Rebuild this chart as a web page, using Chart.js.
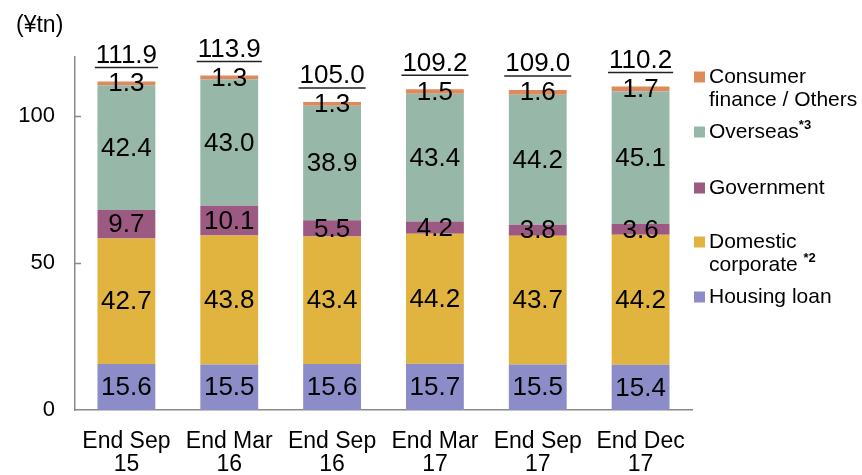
<!DOCTYPE html>
<html>
<head>
<meta charset="utf-8">
<script src="https://cdn.jsdelivr.net/npm/chart.js@4.4.1/dist/chart.umd.min.js"></script>
<style>
  html, body { margin: 0; padding: 0; background: #ffffff; }
  #wrap { width: 862px; height: 475px; position: relative; }
</style>
</head>
<body>
<div id="wrap"><canvas id="chart" width="862" height="475"></canvas></div>
<script>
// Loan balance by borrower type (¥ trillion)
const categories = [
  ['End Sep', '15'], ['End Mar', '16'], ['End Sep', '16'],
  ['End Mar', '17'], ['End Sep', '17'], ['End Dec', '17']
];
const housingLoan       = [15.6, 15.5, 15.6, 15.7, 15.5, 15.4];
const domesticCorporate = [42.7, 43.8, 43.4, 44.2, 43.7, 44.2];
const government        = [9.7, 10.1, 5.5, 4.2, 3.8, 3.6];
const overseas          = [42.4, 43.0, 38.9, 43.4, 44.2, 45.1];
const consumerOthers    = [1.3, 1.3, 1.3, 1.5, 1.6, 1.7];
const totals            = [111.9, 113.9, 105.0, 109.2, 109.0, 110.2];
const yTicks            = [0, 50, 100];
const unitLabel = '(¥tn)';

const FONT = "Arial, 'Liberation Sans', sans-serif";

// Stack order bottom -> top; legend lists them top -> bottom
const series = [
  { label: 'Housing loan',       data: housingLoan,       color: '#8c8cc8', legend: ['Housing loan'], sup: '' },
  { label: 'Domestic corporate', data: domesticCorporate, color: '#e0b43f', legend: ['Domestic', 'corporate '], sup: '*2' },
  { label: 'Government',         data: government,        color: '#9c5a82', legend: ['Government'], sup: '' },
  { label: 'Overseas',           data: overseas,          color: '#97b7a9', legend: ['Overseas'], sup: '*3' },
  { label: 'Consumer finance / Others', data: consumerOthers, color: '#de8a5a', legend: ['Consumer', 'finance / Others'], sup: '' }
];

// Draws segment values, underlined totals, inner y ticks, unit label and legend
const annotate = {
  id: 'annotate',
  afterDatasetsDraw(chart) {
    const ctx = chart.ctx;
    const yScale = chart.scales.y;
    const xScale = chart.scales.x;
    ctx.save();

    // small inward tick marks on the value axis
    ctx.strokeStyle = '#8a8a8a';
    ctx.lineWidth = 1.5;
    yTicks.forEach(v => {
      if (v === 0) return;
      const y = Math.round(yScale.getPixelForValue(v)) + 0.5;
      ctx.beginPath();
      ctx.moveTo(xScale.left, y);
      ctx.lineTo(xScale.left + 6, y);
      ctx.stroke();
    });

    // values inside each segment
    ctx.fillStyle = '#000';
    ctx.font = '26px ' + FONT;
    ctx.textAlign = 'center';
    ctx.textBaseline = 'middle';
    chart.data.datasets.forEach((ds, di) => {
      const meta = chart.getDatasetMeta(di);
      meta.data.forEach((bar, i) => {
        const yMid = (bar.y + bar.base) / 2;
        ctx.fillText(ds.data[i].toFixed(1), bar.x, yMid + 1);
      });
    });

    // underlined totals above each stack
    const topMeta = chart.getDatasetMeta(chart.data.datasets.length - 1);
    topMeta.data.forEach((bar, i) => {
      const txt = totals[i].toFixed(1);
      const yText = bar.y - 26;
      ctx.fillText(txt, bar.x, yText);
      const w = ctx.measureText(txt).width;
      ctx.strokeStyle = '#222';
      ctx.lineWidth = 1.5;
      ctx.beginPath();
      ctx.moveTo(bar.x - w / 2 - 1, bar.y - 14);
      ctx.lineTo(bar.x + w / 2 + 1, bar.y - 14);
      ctx.stroke();
    });

    // unit label
    ctx.textAlign = 'left';
    ctx.font = '23px ' + FONT;
    ctx.fillText(unitLabel, 16, 26);

    // legend
    const legendX = 694;
    const markerSize = 11;
    const legendRows = [
      { s: 4, y: 77 },
      { s: 3, y: 132 },
      { s: 2, y: 188 },
      { s: 1, y: 242 },
      { s: 0, y: 297 }
    ];
    legendRows.forEach(row => {
      const s = series[row.s];
      ctx.fillStyle = s.color;
      ctx.fillRect(legendX, row.y - markerSize / 2, markerSize, markerSize);
      ctx.fillStyle = '#000';
      ctx.textAlign = 'left';
      ctx.textBaseline = 'middle';
      s.legend.forEach((line, li) => {
        const ly = row.y + li * 23;
        ctx.font = '21px ' + FONT;
        ctx.fillText(line, legendX + 15, ly);
        if (s.sup && li === s.legend.length - 1) {
          const w = ctx.measureText(line).width;
          ctx.font = 'bold 13px ' + FONT;
          ctx.fillText(s.sup, legendX + 15 + w, ly - 7);
        }
      });
    });

    ctx.restore();
  }
};

new Chart(document.getElementById('chart'), {
  type: 'bar',
  data: {
    labels: categories,
    datasets: series.map(s => ({
      label: s.label,
      data: s.data,
      backgroundColor: s.color,
      borderWidth: 0,
      barPercentage: 0.75,
      categoryPercentage: 0.75
    }))
  },
  options: {
    responsive: false,
    animation: false,
    devicePixelRatio: 1,
    layout: { padding: { left: 0, top: 57, right: 170, bottom: 0 } },
    plugins: {
      legend: { display: false },
      tooltip: { enabled: false }
    },
    scales: {
      x: {
        stacked: true,
        grid: { display: false, drawTicks: false },
        border: { display: true, color: '#8a8a8a', width: 1.5 },
        ticks: {
          color: '#000',
          font: { family: FONT, size: 23, lineHeight: 1.0 },
          padding: 20,
          maxRotation: 0,
          autoSkip: false
        },
        afterFit(scale) { scale.height = 65; }
      },
      y: {
        stacked: true,
        min: 0,
        max: 120,
        grid: { display: false, drawTicks: false },
        border: { display: true, color: '#8a8a8a', width: 1.5 },
        ticks: {
          stepSize: 50,
          includeBounds: false,
          color: '#000',
          font: { family: FONT, size: 22 },
          padding: 20
        },
        afterBuildTicks(scale) { scale.ticks = yTicks.map(v => ({ value: v })); },
        afterFit(scale) { scale.width = 75; }
      }
    }
  },
  plugins: [annotate]
});
</script>
</body>
</html>
